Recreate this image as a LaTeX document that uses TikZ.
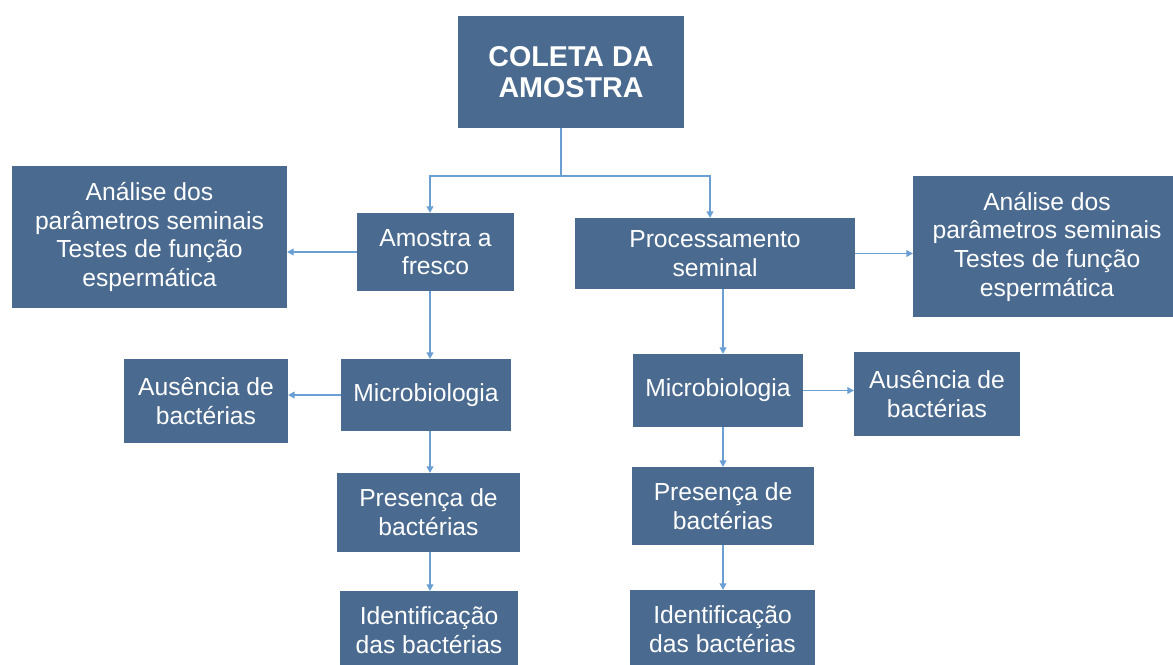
\documentclass[tikz,border=0pt]{standalone}
\usepackage{fontspec}
\setmainfont{Liberation Sans}
\usetikzlibrary{arrows.meta}
\definecolor{boxblue}{RGB}{74,106,143}
\definecolor{linkblue}{RGB}{106,159,212}
\begin{document}
\begin{tikzpicture}[x=0.75pt,y=-0.75pt,inner sep=0pt,outer sep=0pt,
procblock/.style={rectangle,fill=boxblue,text=white,align=center,font=\fontsize{18.5}{21.5}\selectfont},
link/.style={draw=linkblue,line width=1.3pt,-{Triangle[length=5pt,width=5pt]}}]
\useasboundingbox (0,0) rectangle (1173,664);
\draw (571,72) node[procblock,minimum width=169.5pt,minimum height=84pt,font=\fontsize{21.5}{23}\selectfont\bfseries] (coleta) {COLETA DA\\AMOSTRA};
\draw (149.5,237) node[procblock,minimum width=206.25pt,minimum height=106.5pt] (analiseL) {Análise dos\\parâmetros seminais\\Testes de função\\espermática};
\draw (435.5,252) node[procblock,minimum width=117.75pt,minimum height=58.5pt] (fresco) {Amostra a\\fresco};
\draw (715,253.5) node[procblock,minimum width=210pt,minimum height=53.25pt] (proc) {Processamento\\seminal};
\draw (1047,246.5) node[procblock,minimum width=201pt,minimum height=105.75pt] (analiseR) {Análise dos\\parâmetros seminais\\Testes de função\\espermática};
\draw (426,395) node[procblock,minimum width=127.5pt,minimum height=54pt] (microL) {Microbiologia};
\draw (206,401) node[procblock,minimum width=123pt,minimum height=63pt] (ausL) {Ausência de\\bactérias};
\draw (718,390.5) node[procblock,minimum width=127.5pt,minimum height=54.75pt] (microR) {Microbiologia};
\draw (937,394) node[procblock,minimum width=124.5pt,minimum height=63pt] (ausR) {Ausência de\\bactérias};
\draw (428.5,512.5) node[procblock,minimum width=137.25pt,minimum height=59.25pt] (presL) {Presença de\\bactérias};
\draw (723,506) node[procblock,minimum width=136.5pt,minimum height=58.5pt] (presR) {Presença de\\bactérias};
\draw (429,630) node[procblock,minimum width=133.5pt,minimum height=58.5pt] (identL) {Identificação\\das bactérias};
\draw (722.5,629) node[procblock,minimum width=138.75pt,minimum height=58.5pt] (identR) {Identificação\\das bactérias};
% columns of the connectors
\coordinate (split) at (561,176);
\coordinate (colL) at (430,0);
\coordinate (colR) at (710,0);
\coordinate (colRR) at (723,0);
\draw[draw=linkblue,line width=1.3pt] (coleta.south -| split) -- (split);
\draw[link] (split) -| (fresco.north -| colL);
\draw[link] (split) -| (proc.north -| colR);
\draw[link] (fresco.west) -- (fresco.west -| analiseL.east);
\draw[link] (proc.east) -- (proc.east -| analiseR.west);
\draw[link] (fresco.south -| colL) -- (microL.north -| colL);
\draw[link] (microL.west) -- (microL.west -| ausL.east);
\draw[link] (microL.south -| colL) -- (presL.north -| colL);
\draw[link] (presL.south -| colL) -- (identL.north -| colL);
\draw[link] (proc.south -| colRR) -- (microR.north -| colRR);
\draw[link] (microR.east) -- (microR.east -| ausR.west);
\draw[link] (microR.south -| colRR) -- (presR.north -| colRR);
\draw[link] (presR.south -| colRR) -- (identR.north -| colRR);
\end{tikzpicture}
\end{document}
